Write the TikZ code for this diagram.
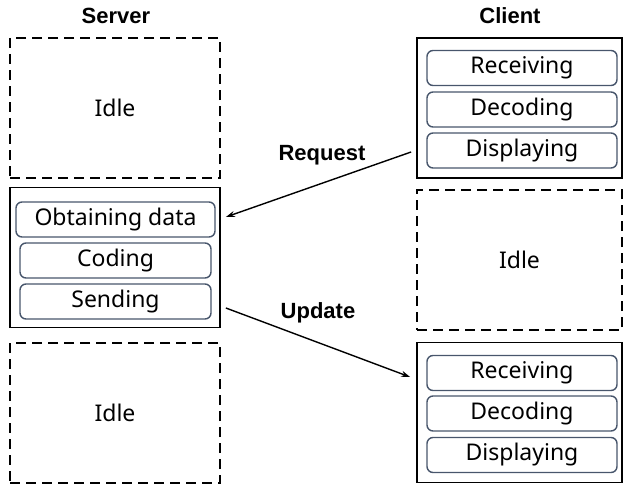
\documentclass[tikz,border=0pt]{standalone}
\usepackage{fontspec}
\setmainfont{Noto Sans}
\newfontfamily\sidefont{Liberation Sans}
\usetikzlibrary{arrows.meta,calc}
\definecolor{taskline}{RGB}{72,86,108}
\tikzset{
	phase/.style={draw=black, line width=1.8pt, minimum width=205pt, minimum height=140pt, inner sep=0pt, font=\fontsize{23}{26}\selectfont},
	idle/.style={phase, dash pattern=on 10pt off 6pt},
	task/.style={draw=taskline, line width=1.4pt, rounded corners=6pt, minimum width=190pt, minimum height=35pt, inner sep=0pt, font=\fontsize{23}{26}\selectfont},
	msg/.style={-{Stealth[length=9pt,width=6pt]}, line width=1.4pt},
	side/.style={font=\sidefont\bfseries\fontsize{22}{25}\selectfont}
}
\begin{document}
\begin{tikzpicture}[x=1pt, y=-1pt]
		%%%%% START %%%%%
		\useasboundingbox (0, 0) rectangle (623, 487);
		
		\node[side] (svlabel) at (116, 16) {Server};
		\node[side] (cllabel) at (510, 16) {Client};
		
		% server side
		\node[idle, minimum width=210pt] (sv1) at (115, 108) {Idle};
		\node[phase, minimum width=210pt] (sv2) at (115, 257.5) {};
		\node[task, minimum width=199pt] (obtain) at (115.5, 219.5) {Obtaining data};
		\node[task, minimum width=191pt] (coding) at (115.5, 260.5) {Coding};
		\node[task, minimum width=191pt] (sending) at (115.5, 301.5) {Sending};
		\node[idle, minimum width=210pt] (sv3) at (115, 413) {Idle};
		
		% client side
		\node[phase] (cl1) at (519.5, 108) {};
		\node[task] (recv1) at (522, 68) {Receiving};
		\node[task] (dec1) at (522, 109.5) {Decoding};
		\node[task] (disp1) at (522, 150.5) {Displaying};
		\node[idle] (cl2) at (519.5, 260) {Idle};
		\node[phase] (cl3) at (519.5, 412.5) {};
		\node[task] (recv2) at (522, 373) {Receiving};
		\node[task] (dec2) at (522, 413.5) {Decoding};
		\node[task] (disp2) at (522, 455) {Displaying};
		
		% messages
		\draw[msg] ([shift={(-5, 44)}]cl1.west) -- ([shift={(5, -40.5)}]sv2.east);
		\node[side] (request) at (322, 155) {Request};
		
		\draw[msg] ([shift={(5, 50.5)}]sv2.east) -- ([shift={(-6, -35.5)}]cl3.west);
		\node[side] (update) at (318, 313) {Update};
		
		%%%%% END %%%%%
	\end{tikzpicture}
\end{document}
